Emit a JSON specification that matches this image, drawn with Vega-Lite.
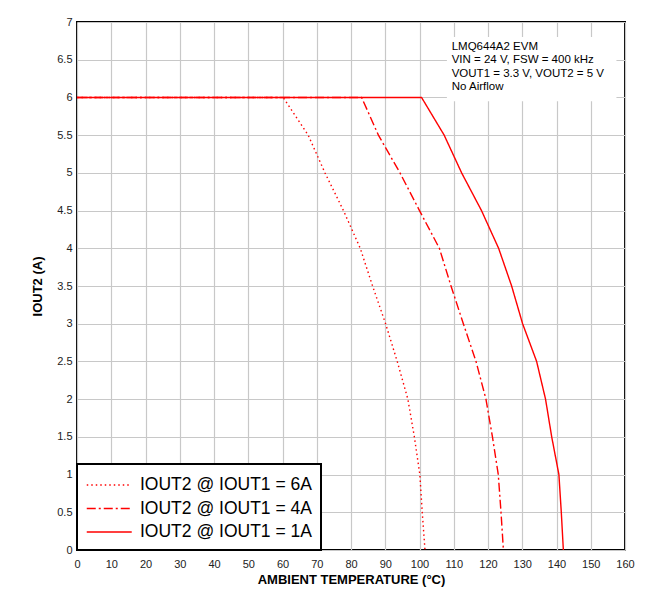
{
  "$schema": "https://vega.github.io/schema/vega-lite/v6.json",
  "width": 548,
  "height": 528,
  "autosize": "none",
  "padding": {"left": 77, "top": 22, "right": 38, "bottom": 43},
  "background": "white",
  "config": {
    "font": "Liberation Sans",
    "view": {"stroke": "black", "strokeWidth": 2},
    "axis": {
      "grid": true,
      "gridColor": "#c8c8c8",
      "gridWidth": 1.2,
      "ticks": false,
      "domain": false,
      "labelFlush": false,
      "labelFont": "Liberation Sans",
      "labelFontSize": 11,
      "labelColor": "#222",
      "titleFont": "Liberation Sans",
      "titleFontSize": 13,
      "titleFontWeight": "bold",
      "titleColor": "black"
    },
    "legend": {
      "orient": "bottom-left",
      "offset": 0,
      "fillColor": "white",
      "strokeColor": "black",
      "strokeWidth": 2,
      "padding": 9,
      "labelFont": "Liberation Sans",
      "labelFontSize": 17.5,
      "labelColor": "black",
      "labelLimit": 400,
      "labelOffset": 30,
      "symbolType": "M-1,0H3",
      "symbolSize": 506,
      "symbolStrokeWidth": 1.5,
      "symbolStrokeColor": "red",
      "symbolFillColor": "transparent",
      "rowPadding": 2.5
    }
  },
  "encoding": {
    "x": {
      "field": "T",
      "type": "quantitative",
      "scale": {"domain": [0, 160], "nice": false},
      "axis": {"values": [0,10,20,30,40,50,60,70,80,90,100,110,120,130,140,150,160], "labelPadding": 8, "titlePadding": 4},
      "title": "AMBIENT TEMPERATURE (°C)"
    },
    "y": {
      "field": "I",
      "type": "quantitative",
      "scale": {"domain": [0, 7], "nice": false},
      "axis": {"values": [0,0.5,1,1.5,2,2.5,3,3.5,4,4.5,5,5.5,6,6.5,7], "format": "~g", "labelPadding": 5, "titlePadding": 12},
      "title": "IOUT2 (A)"
    }
  },
  "layer": [
    {
      "data": {"values": [{"T": 108, "T2": 157.5, "I": 5.95, "I2": 6.8}]},
      "mark": {"type": "rect", "fill": "white"},
      "encoding": {"x2": {"field": "T2"}, "y2": {"field": "I2"}}
    },
    {
      "data": {"values": [{"T": 109.4, "I": 6.63, "label": "LMQ644A2 EVM\nVIN = 24 V, FSW = 400 kHz\nVOUT1 = 3.3 V, VOUT2 = 5 V\nNo Airflow"}]},
      "mark": {"type": "text", "align": "left", "baseline": "alphabetic", "lineBreak": "\n", "lineHeight": 13.5, "fontSize": 11.5, "font": "Liberation Sans", "color": "black"},
      "encoding": {"text": {"field": "label"}}
    },
    {
      "data": {"values": [
        {"series": "IOUT2 @ IOUT1 = 6A", "T": 0, "I": 6},
        {"series": "IOUT2 @ IOUT1 = 6A", "T": 60.2, "I": 6},
        {"series": "IOUT2 @ IOUT1 = 6A", "T": 67.5, "I": 5.5},
        {"series": "IOUT2 @ IOUT1 = 6A", "T": 72.4, "I": 5},
        {"series": "IOUT2 @ IOUT1 = 6A", "T": 77.8, "I": 4.5},
        {"series": "IOUT2 @ IOUT1 = 6A", "T": 82.7, "I": 4},
        {"series": "IOUT2 @ IOUT1 = 6A", "T": 86.3, "I": 3.5},
        {"series": "IOUT2 @ IOUT1 = 6A", "T": 90.1, "I": 3},
        {"series": "IOUT2 @ IOUT1 = 6A", "T": 93.5, "I": 2.5},
        {"series": "IOUT2 @ IOUT1 = 6A", "T": 96.6, "I": 2},
        {"series": "IOUT2 @ IOUT1 = 6A", "T": 98.5, "I": 1.5},
        {"series": "IOUT2 @ IOUT1 = 6A", "T": 100.1, "I": 1},
        {"series": "IOUT2 @ IOUT1 = 6A", "T": 100.8, "I": 0.5},
        {"series": "IOUT2 @ IOUT1 = 6A", "T": 101.6, "I": 0},
        {"series": "IOUT2 @ IOUT1 = 4A", "T": 0, "I": 6},
        {"series": "IOUT2 @ IOUT1 = 4A", "T": 83.1, "I": 6},
        {"series": "IOUT2 @ IOUT1 = 4A", "T": 88, "I": 5.5},
        {"series": "IOUT2 @ IOUT1 = 4A", "T": 94.3, "I": 5},
        {"series": "IOUT2 @ IOUT1 = 4A", "T": 100, "I": 4.5},
        {"series": "IOUT2 @ IOUT1 = 4A", "T": 105.8, "I": 4},
        {"series": "IOUT2 @ IOUT1 = 4A", "T": 109.2, "I": 3.5},
        {"series": "IOUT2 @ IOUT1 = 4A", "T": 112.8, "I": 3},
        {"series": "IOUT2 @ IOUT1 = 4A", "T": 116.5, "I": 2.5},
        {"series": "IOUT2 @ IOUT1 = 4A", "T": 119.4, "I": 2},
        {"series": "IOUT2 @ IOUT1 = 4A", "T": 121.3, "I": 1.5},
        {"series": "IOUT2 @ IOUT1 = 4A", "T": 123, "I": 1},
        {"series": "IOUT2 @ IOUT1 = 4A", "T": 123.8, "I": 0.5},
        {"series": "IOUT2 @ IOUT1 = 4A", "T": 124.5, "I": 0},
        {"series": "IOUT2 @ IOUT1 = 1A", "T": 0, "I": 6},
        {"series": "IOUT2 @ IOUT1 = 1A", "T": 100.6, "I": 6},
        {"series": "IOUT2 @ IOUT1 = 1A", "T": 107.2, "I": 5.5},
        {"series": "IOUT2 @ IOUT1 = 1A", "T": 112.3, "I": 5},
        {"series": "IOUT2 @ IOUT1 = 1A", "T": 118.1, "I": 4.5},
        {"series": "IOUT2 @ IOUT1 = 1A", "T": 123.1, "I": 4},
        {"series": "IOUT2 @ IOUT1 = 1A", "T": 126.9, "I": 3.5},
        {"series": "IOUT2 @ IOUT1 = 1A", "T": 130.1, "I": 3},
        {"series": "IOUT2 @ IOUT1 = 1A", "T": 134.2, "I": 2.5},
        {"series": "IOUT2 @ IOUT1 = 1A", "T": 136.8, "I": 2},
        {"series": "IOUT2 @ IOUT1 = 1A", "T": 138.6, "I": 1.5},
        {"series": "IOUT2 @ IOUT1 = 1A", "T": 140.7, "I": 1},
        {"series": "IOUT2 @ IOUT1 = 1A", "T": 141.4, "I": 0.5},
        {"series": "IOUT2 @ IOUT1 = 1A", "T": 142, "I": 0}
      ]},
      "mark": {"type": "line", "color": "red", "strokeWidth": 1.4},
      "encoding": {
        "order": {"field": "I", "sort": "descending"},
        "strokeDash": {
          "field": "series",
          "type": "nominal",
          "scale": {
            "domain": ["IOUT2 @ IOUT1 = 6A", "IOUT2 @ IOUT1 = 4A", "IOUT2 @ IOUT1 = 1A"],
            "range": [[1.5, 3], [9, 3, 2, 3], [1, 0]]
          },
          "legend": {"title": null}
        }
      }
    }
  ]
}
